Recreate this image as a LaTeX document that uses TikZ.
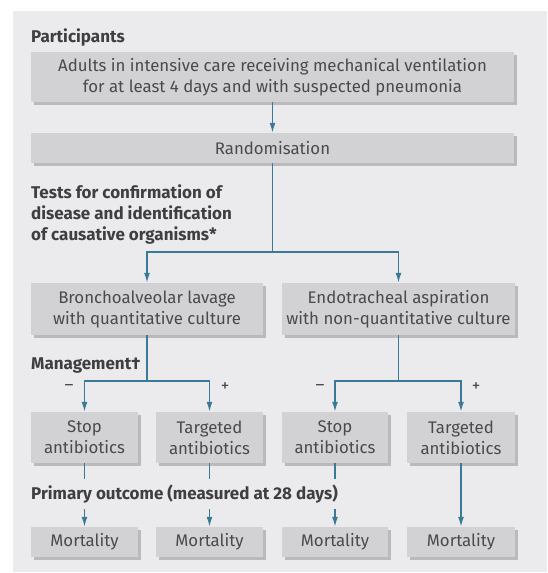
\documentclass[tikz,border=0pt]{standalone}
\usepackage{fontspec}
\setmainfont{Fira Sans}
\usetikzlibrary{arrows.meta,shadows}
\definecolor{panelgray}{RGB}{235,235,237}
\definecolor{boxgray}{RGB}{210,210,212}
\definecolor{shadowgray}{RGB}{186,186,188}
\definecolor{petrol}{RGB}{58,122,150}
\definecolor{inkgray}{RGB}{74,74,76}

\begin{document}
\begin{tikzpicture}[x=1pt, y=-1pt,
    box/.style={fill=boxgray, text=inkgray, align=center, inner sep=0pt,
                font=\fontsize{16.8}{21}\selectfont,
                drop shadow={shadow xshift=2.5pt, shadow yshift=-2.5pt, fill=shadowgray, opacity=1}},
    heading/.style={anchor=west, text=inkgray!85!black, align=left, inner sep=0pt,
                font=\fontsize{17}{21}\selectfont\bfseries},
    link/.style={draw=petrol, line width=1.5pt},
    arr/.style={link, -{Latex[length=10pt, width=6pt]}},
    sign/.style={text=inkgray, font=\fontsize{17}{17}\selectfont}]
    \useasboundingbox (0,0) rectangle (547,573);
    \fill[panelgray] (13,11) rectangle (547,572);

    % headings
    \node[heading] (hpart)  at (31,37)  {Participants};
    \node[heading] (htests) at (31,214) {Tests for confirmation of\\disease and identification\\of causative organisms*};
    \node[heading] (hmanag) at (31,365) {Management\textdagger};

    % boxes
    \node[box, minimum width=483pt, minimum height=50pt] (part) at (272.5,77)
         {Adults in intensive care receiving mechanical ventilation\\for at least 4 days and with suspected pneumonia};
    \node[box, minimum width=483pt, minimum height=30pt] (rand) at (272.5,148) {Randomisation};
    \node[box, minimum width=232pt, minimum height=52pt] (bal) at (147,309)
         {Bronchoalveolar lavage\\with quantitative culture};
    \node[box, minimum width=233pt, minimum height=52pt] (et) at (398.5,309)
         {Endotracheal aspiration\\with non-quantitative culture};

    \node[box, minimum width=107pt, minimum height=51pt] (stopa) at (84.5,437.5) {Stop\\antibiotics};
    \node[box, minimum width=107pt, minimum height=51pt] (targa) at (209.5,437.5) {Targeted\\antibiotics};
    \node[box, minimum width=106pt, minimum height=51pt] (stopb) at (335,437.5) {Stop\\antibiotics};
    \node[box, minimum width=108pt, minimum height=51pt] (targb) at (461,437.5) {Targeted\\antibiotics};

    \node[box, minimum width=107pt, minimum height=30pt] (morta) at (84.5,542) {Mortality};
    \node[box, minimum width=107pt, minimum height=30pt] (mortb) at (209.5,542) {Mortality};
    \node[box, minimum width=106pt, minimum height=30pt] (mortc) at (335,542) {Mortality};
    \node[box, minimum width=108pt, minimum height=30pt] (mortd) at (461,542) {Mortality};

    % junctions
    \coordinate (jrand) at (272.5,252);
    \coordinate (jbal)  at (147,381);
    \coordinate (jet)   at (398.5,381);

    % connectors
    \draw[arr] (part) -- (rand);
    \draw[link] (rand) -- (jrand);
    \draw[arr] (jrand) -| (bal);
    \draw[arr] (jrand) -| (et);
    \draw[link] (bal) -- (jbal);
    \draw[arr] (jbal) -| (stopa);
    \draw[arr] (jbal) -| (targa);
    \draw[link] (et) -- (jet);
    \draw[arr] (jet) -| (stopb);
    \draw[arr] (jet) -| (targb);
    \draw[arr] (stopa) -- (morta);
    \draw[arr] (targa) -- (mortb);
    \draw[arr] (stopb) -- (mortc);
    \draw[arr] (targb) -- (mortd);

    % signs
    \node[sign] (mina) at (69,388)  {–};
    \node[sign] (plsa) at (225,387) {+};
    \node[sign] (minb) at (320,388) {–};
    \node[sign] (plsb) at (476,387) {+};

    % outcome label over the lines
    \node[heading, fill=panelgray, inner ysep=6pt, inner xsep=3pt] (houtc) at (28,494) {Primary outcome (measured at 28 days)};
\end{tikzpicture}
\end{document}
